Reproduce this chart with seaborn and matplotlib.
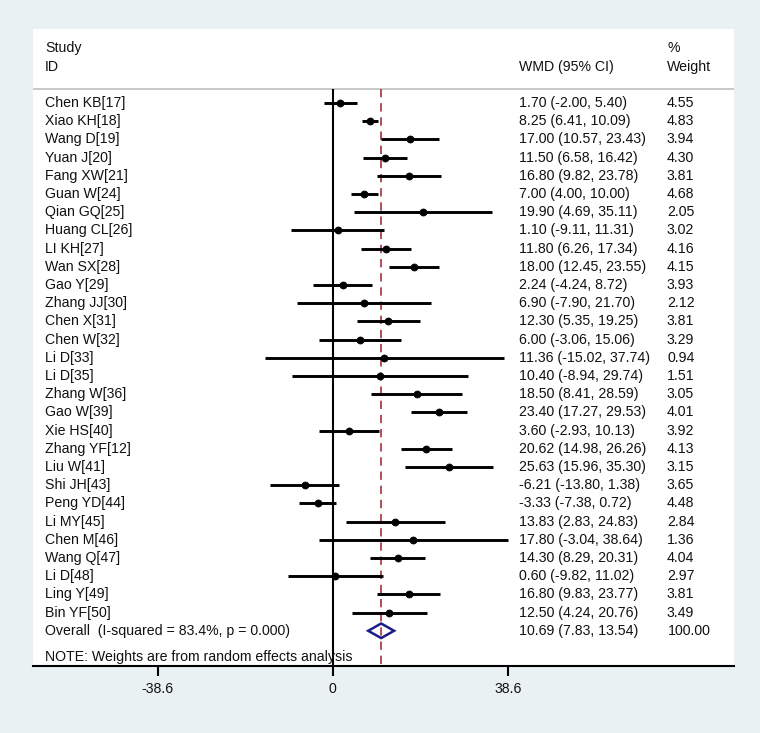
import matplotlib
matplotlib.use("Agg")
import matplotlib.pyplot as plt
import seaborn as sns
import pandas as pd
from matplotlib.patches import Polygon

studies = ["Chen KB[17]", "Xiao KH[18]", "Wang D[19]", "Yuan J[20]", "Fang XW[21]",
           "Guan W[24]", "Qian GQ[25]", "Huang CL[26]", "LI KH[27]", "Wan SX[28]",
           "Gao Y[29]", "Zhang JJ[30]", "Chen X[31]", "Chen W[32]", "Li D[33]",
           "Li D[35]", "Zhang W[36]", "Gao W[39]", "Xie HS[40]", "Zhang YF[12]",
           "Liu W[41]", "Shi JH[43]", "Peng YD[44]", "Li MY[45]", "Chen M[46]",
           "Wang Q[47]", "Li D[48]", "Ling Y[49]", "Bin YF[50]"]
es = [1.70, 8.25, 17.00, 11.50, 16.80, 7.00, 19.90, 1.10, 11.80, 18.00,
      2.24, 6.90, 12.30, 6.00, 11.36, 10.40, 18.50, 23.40, 3.60, 20.62,
      25.63, -6.21, -3.33, 13.83, 17.80, 14.30, 0.60, 16.80, 12.50]
lo = [-2.00, 6.41, 10.57, 6.58, 9.82, 4.00, 4.69, -9.11, 6.26, 12.45,
      -4.24, -7.90, 5.35, -3.06, -15.02, -8.94, 8.41, 17.27, -2.93, 14.98,
      15.96, -13.80, -7.38, 2.83, -3.04, 8.29, -9.82, 9.83, 4.24]
hi = [5.40, 10.09, 23.43, 16.42, 23.78, 10.00, 35.11, 11.31, 17.34, 23.55,
      8.72, 21.70, 19.25, 15.06, 37.74, 29.74, 28.59, 29.53, 10.13, 26.26,
      35.30, 1.38, 0.72, 24.83, 38.64, 20.31, 11.02, 23.77, 20.76]
weights = [4.55, 4.83, 3.94, 4.30, 3.81, 4.68, 2.05, 3.02, 4.16, 4.15,
           3.93, 2.12, 3.81, 3.29, 0.94, 1.51, 3.05, 4.01, 3.92, 4.13,
           3.15, 3.65, 4.48, 2.84, 1.36, 4.04, 2.97, 3.81, 3.49]
overall_label = "Overall  (I-squared = 83.4%, p = 0.000)"
overall_es, overall_lo, overall_hi, overall_w = 10.69, 7.83, 13.54, 100.00
xtick_vals = [-38.6, 0, 38.6]
xtick_labels = ["-38.6", "0", "38.6"]
note = "NOTE: Weights are from random effects analysis"

sns.set_theme(style="white")
plt.rcParams["font.family"] = ["Liberation Sans", "DejaVu Sans"]
plt.rcParams["axes.unicode_minus"] = False

W, H = 760, 733
fig = plt.figure(figsize=(W / 100, H / 100), dpi=100)
fig.patch.set_facecolor("#eaf1f3")

px_left, px_right, px_top, px_bot = 33, 734, 29, 666
ax = fig.add_axes([px_left / W, 1 - px_bot / H, (px_right - px_left) / W, (px_bot - px_top) / H])
ax.set_facecolor("white")

zero_px = 332.7
scale = 4.534
row0, step = 103, 18.2
ax.set_xlim((px_left - zero_px) / scale, (px_right - zero_px) / scale)
ybot = (px_bot - row0) / step
ytop = (px_top - row0) / step
ax.set_ylim(ybot, ytop)

df = pd.DataFrame({"study": studies, "es": es, "lo": lo, "hi": hi, "w": weights})
df["row"] = range(len(df))

header_y = (89 - row0) / step
# header separator
ax.axhline(header_y, color="#c4c4c4", lw=1.3, zorder=1)
# zero line
ax.vlines(0, header_y, ybot, color="black", lw=1.5, zorder=2)
# overall dashed line
ax.vlines(overall_es, header_y, ybot, color="#a3303a", lw=1.2, linestyles=(0, (5, 3.5)), zorder=2)

# CI lines
ax.hlines(df["row"], df["lo"], df["hi"], color="black", lw=2.1, zorder=3)
sns.scatterplot(data=df, x="es", y="row", color="black", s=26, edgecolor="black",
                linewidth=0.5, ax=ax, zorder=4, legend=False)

# overall diamond
orow = len(df)
dh = 0.4
diamond = Polygon([(overall_lo, orow), (overall_es, orow - dh), (overall_hi, orow), (overall_es, orow + dh)],
                  closed=True, fill=False, edgecolor="#1c1c86", lw=1.8, zorder=5)
ax.add_patch(diamond)

fs = 10.2
x_name = (45 - zero_px) / scale
x_wmd = (519 - zero_px) / scale
x_w = (667 - zero_px) / scale
for _, r in df.iterrows():
    ax.text(x_name, r["row"], r["study"], fontsize=fs, va="center", ha="left", color="#111111")
    ax.text(x_wmd, r["row"], f"{r['es']:.2f} ({r['lo']:.2f}, {r['hi']:.2f})", fontsize=fs,
            va="center", ha="left", color="#111111")
    ax.text(x_w, r["row"], f"{r['w']:.2f}", fontsize=fs, va="center", ha="left", color="#111111")
ax.text(x_name, orow, overall_label, fontsize=fs, va="center", ha="left", color="#111111")
ax.text(x_wmd, orow, f"{overall_es:.2f} ({overall_lo:.2f}, {overall_hi:.2f})", fontsize=fs,
        va="center", ha="left", color="#111111")
ax.text((668 - zero_px) / scale, orow, f"{overall_w:.2f}", fontsize=fs, va="center", ha="left", color="#111111")

# headers
y1 = (48 - row0) / step
y2 = (67 - row0) / step
ax.text(x_name, y1, "Study", fontsize=fs, va="center", ha="left", color="#111111")
ax.text(x_name, y2, "ID", fontsize=fs, va="center", ha="left", color="#111111")
ax.text(x_wmd, y2, "WMD (95% CI)", fontsize=fs, va="center", ha="left", color="#111111")
ax.text(x_w, y1, "%", fontsize=fs, va="center", ha="left", color="#111111")
ax.text(x_w, y2, "Weight", fontsize=fs, va="center", ha="left", color="#111111")

ax.text(x_name, (657 - row0) / step, note, fontsize=fs, va="center", ha="left", color="#111111")

for s in ["top", "left", "right"]:
    ax.spines[s].set_visible(False)
ax.spines["bottom"].set_color("black")
ax.spines["bottom"].set_linewidth(1.5)
ax.set_yticks([])
ax.set_xticks(xtick_vals)
ax.set_xticklabels(xtick_labels)
ax.tick_params(axis="x", bottom=True, direction="out", length=7.5, width=1.5, color="black",
               labelsize=fs, pad=4, labelcolor="#111111")
ax.set_xlabel("")
ax.set_ylabel("")

fig.savefig("out.png", dpi=100, facecolor=fig.get_facecolor())
